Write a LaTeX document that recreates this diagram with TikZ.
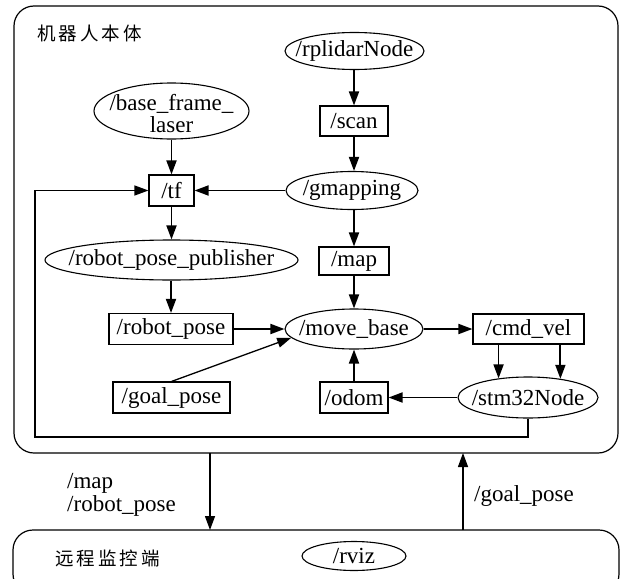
\documentclass[tikz,border=0pt]{standalone}
\usepackage{fontspec}
\setmainfont{Liberation Serif}
\newfontfamily\cjk{Noto Sans CJK SC}
\usetikzlibrary{arrows.meta,shapes.geometric}
\newcommand\zw[1]{\makebox[0pt]{#1}}
\newcommand\cs{\hspace{3pt}}
\begin{document}
\begin{tikzpicture}[x=1pt,y=-1pt,
  font=\fontsize{23}{22}\selectfont,
  box/.style={draw, line width=1.1pt, rectangle, inner sep=0pt},
  ell/.style={draw, line width=1.1pt, ellipse, inner sep=0pt},
  frame/.style={draw, line width=1.2pt, rounded corners=20pt},
  lbl/.style={inner sep=0pt},
  arr/.style={line width=1.8pt, -{Triangle[length=14pt,width=10pt]}}]
\useasboundingbox (0,0) rectangle (626,578);
\clip (0,0) rectangle (626,578);
% frames
\draw[frame] (14,6) rectangle (618,453);
\draw[frame] (13,530) rectangle (619,594);
\node[lbl, anchor=west] (title) at (37,33) {\cjk\fontsize{18.5}{20}\selectfont 机\cs 器\cs 人\cs 本\cs 体};
\node[lbl, anchor=west] (remote) at (55,558) {\cjk\fontsize{18.5}{20}\selectfont 远\cs 程\cs 监\cs 控\cs 端};
% nodes
\node[ell, minimum width=139pt, minimum height=37pt] (rplidar) at (354.5,51) {\zw{/rplidarNode}};
\node[box, minimum width=68pt, minimum height=30pt] (scan) at (354,121) {/scan};
\node[ell, minimum width=132pt, minimum height=38pt] (gmap) at (352,190.5) {\zw{/gmapping}};
\node[ell, minimum width=155pt, minimum height=56pt] (bfl) at (171.5,111) {\zw{\raisebox{-12pt}[0pt][0pt]{\begin{tabular}{@{}c@{}}/base\_frame\_\\laser\end{tabular}}}};
\node[box, minimum width=45pt, minimum height=31pt] (tf) at (171.5,190.5) {/tf};
\node[ell, minimum width=253pt, minimum height=40pt] (rpp) at (171.5,260) {\zw{/robot\_pose\_publisher}};
\node[box, minimum width=70pt, minimum height=28pt] (map) at (354,261) {/map};
\node[box, minimum width=124pt, minimum height=31pt] (rp) at (171,329) {/robot\_pose};
\node[ell, minimum width=138pt, minimum height=40pt] (mb) at (354,329) {\zw{/move\_base}};
\node[box, minimum width=111pt, minimum height=30pt] (cmd) at (528.5,329) {/cmd\_vel};
\node[box, minimum width=117pt, minimum height=31pt] (gp) at (171.5,397.5) {/goal\_pose};
\node[box, minimum width=68pt, minimum height=31pt] (odom) at (354,397.5) {/odom};
\node[ell, minimum width=140pt, minimum height=41pt] (stm) at (528,397.5) {\zw{/stm32Node}};
\node[ell, minimum width=104pt, minimum height=29pt] (rviz) at (354,556) {\zw{/rviz}};
% labels
\node[lbl, anchor=base west] (lmap) at (67,488) {/map};
\node[lbl, anchor=base west] (lrp) at (67,511.5) {/robot\_pose};
\node[lbl, anchor=base west] (lgp) at (474,501.5) {/goal\_pose};
% connectors
\draw[arr] (rplidar.south -| scan.north) -- (scan.north);
\draw[arr] (scan.south) -- (scan.south |- gmap.north);
\draw[arr] (bfl.south) -- (tf.north);
\draw[arr] (gmap.west) -- (tf.east);
\draw[arr] (tf.south) -- (rpp.north);
\draw[arr] (rpp.south -| rp.north) -- (rp.north);
\draw[arr] (gmap.south -| map.north) -- (map.north);
\draw[arr] (map.south) -- (mb.north);
\draw[arr] (rp.east) -- (mb.west);
\draw[arr, line width=1.3pt] (gp.north) -- (mb.188);
\draw[arr] (mb.east) -- (cmd.west);
\draw[arr] (cmd.south -| stm.147) -- (stm.147);
\draw[arr] (cmd.south -| stm.30) -- (stm.30);
\draw[arr] (stm.west) -- (odom.east);
\draw[arr] (odom.north) -- (mb.south);
\coordinate (fb) at (35,437);
\draw[arr, line width=1.3pt] (stm.south) |- (fb) |- (tf.west);
\coordinate (d1) at (210,453);
\coordinate (d2) at (210,530);
\coordinate (u1) at (463,530);
\coordinate (u2) at (463,453);
\draw[arr, line width=1.3pt] (d1) -- (d2);
\draw[arr, line width=1.3pt] (u1) -- (u2);
\end{tikzpicture}
\end{document}
